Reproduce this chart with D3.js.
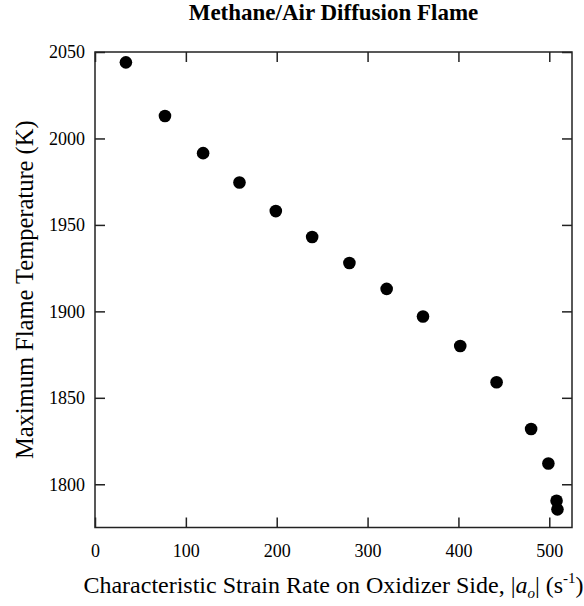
<!DOCTYPE html>
<html>
<head>
<meta charset="utf-8">
<script src="https://cdn.jsdelivr.net/npm/d3@7"></script>
<style>
  body { margin: 0; background: #fff; }
  text { font-family: "Liberation Serif", "Times New Roman", serif; fill: #000; }
</style>
</head>
<body>
<svg id="chart" width="584" height="606"></svg>
<script>
// strain rate |a_o| (1/s) and peak flame temperature (K)
var strainRate = [34, 77, 119, 159, 199, 239, 280, 321, 361, 402, 442, 480, 499, 508, 509];
var maxTemp = [2044, 2013, 1991.5, 1974.5, 1958, 1943, 1928, 1913, 1897, 1880, 1859, 1832, 1812, 1790.5, 1785.5];
var xTicks = [0, 100, 200, 300, 400, 500];
var yTicks = [1800, 1850, 1900, 1950, 2000, 2050];

var pLeft = 95, pRight = 572, pTop = 52, pBottom = 527.5;

var svg = d3.select("#chart");

var x = d3.scaleLinear().domain([0, 525]).range([pLeft, pRight]);
var y = d3.scaleLinear().domain([1775, 2050]).range([pBottom, pTop]);

// frame
svg.append("rect")
    .attr("x", pLeft).attr("y", pTop)
    .attr("width", pRight - pLeft).attr("height", pBottom - pTop)
    .attr("fill", "none")
    .attr("stroke", "#222")
    .attr("stroke-width", 1.5);

// ticks point inward on all four sides
var xb = svg.append("g").attr("transform", "translate(0," + pBottom + ")")
    .call(d3.axisBottom(x).tickValues(xTicks).tickFormat(d3.format("d")).tickSizeInner(-10).tickSizeOuter(0).tickPadding(17));
var xt = svg.append("g").attr("transform", "translate(0," + pTop + ")")
    .call(d3.axisTop(x).tickValues(xTicks).tickSizeInner(-10).tickSizeOuter(0).tickFormat(""));
var yl = svg.append("g").attr("transform", "translate(" + pLeft + ",0)")
    .call(d3.axisLeft(y).tickValues(yTicks).tickFormat(d3.format("d")).tickSizeInner(-10).tickSizeOuter(0).tickPadding(10));
var yr = svg.append("g").attr("transform", "translate(" + pRight + ",0)")
    .call(d3.axisRight(y).tickValues(yTicks).tickSizeInner(-10).tickSizeOuter(0).tickFormat(""));

[xb, xt, yl, yr].forEach(function(g) {
    g.select(".domain").remove();
    g.selectAll(".tick line").attr("stroke", "#222").attr("stroke-width", 1.5);
    g.selectAll(".tick text")
        .style("font-family", "'Liberation Serif', serif")
        .style("font-size", "18px")
        .attr("fill", "#000");
});

// data points
svg.append("g").selectAll("circle")
    .data(strainRate)
    .enter().append("circle")
    .attr("cx", function(d) { return x(d); })
    .attr("cy", function(d, i) { return y(maxTemp[i]); })
    .attr("r", 6.3)
    .attr("fill", "#000");

// title
svg.append("text")
    .attr("x", (pLeft + pRight) / 2).attr("y", 20)
    .attr("text-anchor", "middle")
    .style("font-size", "23px")
    .style("font-weight", "bold")
    .text("Methane/Air Diffusion Flame");

// x axis title
var xl = svg.append("text")
    .attr("x", (pLeft + pRight) / 2).attr("y", 593)
    .attr("text-anchor", "middle")
    .style("font-size", "24px");
xl.append("tspan").text("Characteristic Strain Rate on Oxidizer Side, |");
xl.append("tspan").style("font-style", "italic").text("a");
xl.append("tspan").attr("dy", 5).style("font-size", "15px").style("font-style", "italic").text("o");
xl.append("tspan").attr("dy", -5).text("| (s");
xl.append("tspan").attr("dy", -10).style("font-size", "15px").text("-1");
xl.append("tspan").attr("dy", 10).text(")");

// y axis title
svg.append("text")
    .attr("transform", "translate(33," + (pTop + pBottom) / 2 + ") rotate(-90)")
    .attr("text-anchor", "middle")
    .style("font-size", "24.5px")
    .text("Maximum Flame Temperature (K)");
</script>
</body>
</html>
